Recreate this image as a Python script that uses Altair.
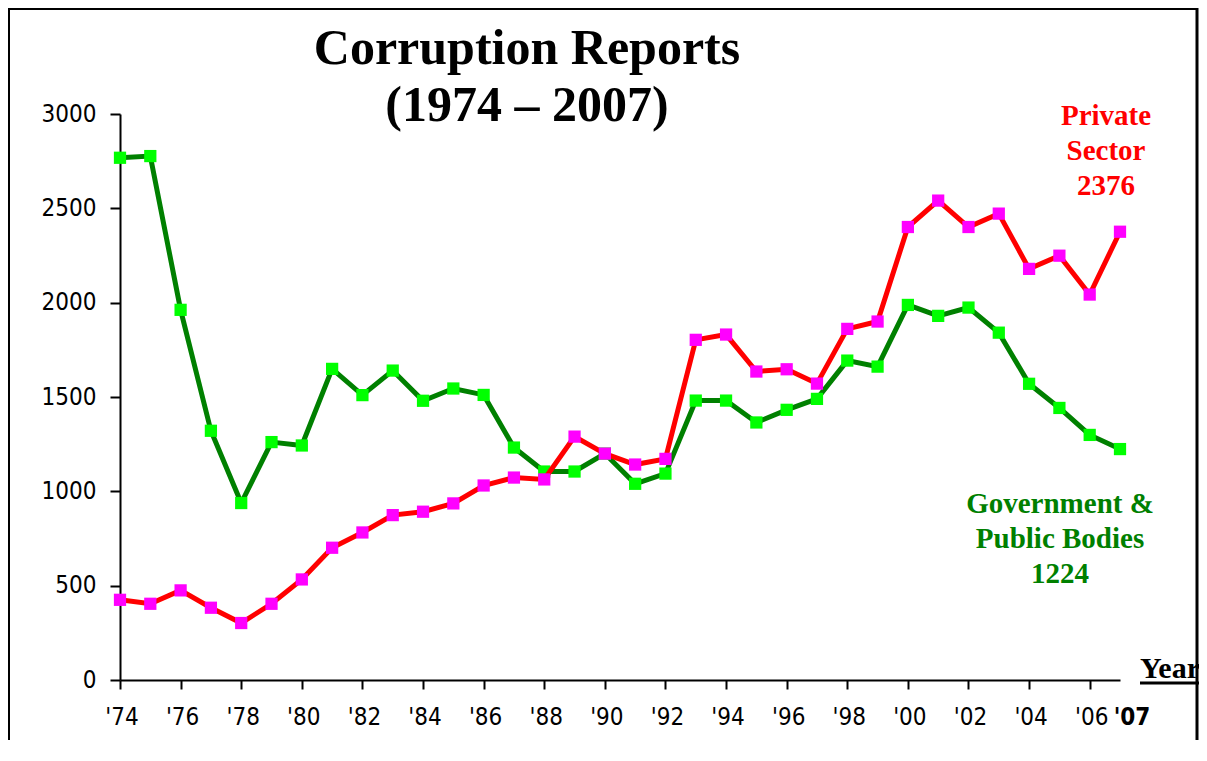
import altair as alt
import pandas as pd

years = list(range(1974, 2008))
government = [2768, 2777, 1962, 1321, 938, 1261, 1243, 1649, 1510, 1640, 1480,
              1545, 1511, 1232, 1105, 1105, 1200, 1040, 1094, 1481, 1481, 1365,
              1432, 1490, 1693, 1661, 1988, 1930, 1974, 1841, 1570, 1442, 1299, 1224]
private = [425, 404, 475, 383, 302, 404, 533, 701, 782, 874, 892,
           936, 1031, 1073, 1063, 1290, 1200, 1142, 1172, 1803, 1831, 1635,
           1647, 1571, 1861, 1900, 2401, 2541, 2401, 2472, 2179, 2249, 2043, 2376]
label_years = list(range(1974, 2007, 2))
tick_labels = ["'74", "'76", "'78", "'80", "'82", "'84", "'86", "'88", "'90",
               "'92", "'94", "'96", "'98", "'00", "'02", "'04", "'06"]
last_label = "'07"
y_ticks = [0, 500, 1000, 1500, 2000, 2500, 3000]

gov_df = pd.DataFrame({"year": years, "value": government})
priv_df = pd.DataFrame({"year": years, "value": private})
lab_df = pd.DataFrame({"year": label_years, "label": tick_labels})
last_df = pd.DataFrame({"year": [2007], "label": [last_label]})

NARROW = "Liberation Sans Narrow, Arial Narrow, DejaVu Sans Condensed, sans-serif"
SERIF = "Liberation Serif, Times New Roman, serif"

xscale = alt.Scale(domain=[1974, 2007], nice=False, zero=False)
yscale = alt.Scale(domain=[0, 3000], nice=False)

x_axis = alt.Axis(values=years, labels=False, title=None, grid=False,
                  tickSize=9, tickWidth=2, tickColor="black",
                  domainWidth=2, domainColor="black")
y_axis = alt.Axis(values=y_ticks, format="d", title=None, grid=False,
                  tickSize=10, tickWidth=2, tickColor="black",
                  domainWidth=2, domainColor="black",
                  labelFont=NARROW, labelFontSize=24, labelColor="black",
                  labelPadding=14)

X = alt.X("year:Q", scale=xscale, axis=x_axis)
Y = alt.Y("value:Q", scale=yscale, axis=y_axis)

gov_line = alt.Chart(gov_df).mark_line(color="#008000", strokeWidth=5).encode(x=X, y=Y)
gov_pts = alt.Chart(gov_df).mark_point(shape="square", filled=True, color="#00FF00",
                                       size=150, opacity=1).encode(x="year:Q", y="value:Q")
priv_line = alt.Chart(priv_df).mark_line(color="#FF0000", strokeWidth=5).encode(x="year:Q", y="value:Q")
priv_pts = alt.Chart(priv_df).mark_point(shape="square", filled=True, color="#FF00FF",
                                         size=150, opacity=1).encode(x="year:Q", y="value:Q")

xlabels = alt.Chart(lab_df).mark_text(font=NARROW, fontSize=24, color="black",
                                      baseline="alphabetic", align="center", dx=2).encode(
    x="year:Q", y=alt.value(611), text="label:N")
xlast = alt.Chart(last_df).mark_text(font=NARROW, fontSize=24, fontWeight="bold", color="black",
                                     baseline="alphabetic", align="center", dx=12).encode(
    x="year:Q", y=alt.value(611), text="label:N")

one = pd.DataFrame({"a": [0]})

title = alt.Chart(one).mark_text(text=["Corruption Reports", "(1974 \u2013 2007)"],
                                 font=SERIF, fontSize=50, fontWeight="bold", color="black",
                                 align="center", baseline="alphabetic", lineHeight=57).encode(
    x=alt.value(407), y=alt.value(-50))

priv_note = alt.Chart(one).mark_text(text=["Private", "Sector", "2376"],
                                     font=SERIF, fontSize=29, fontWeight="bold", color="#FF0000",
                                     align="center", baseline="alphabetic", lineHeight=35).encode(
    x=alt.value(986), y=alt.value(11))
gov_note = alt.Chart(one).mark_text(text=["Government &", "Public Bodies", "1224"],
                                    font=SERIF, fontSize=29, fontWeight="bold", color="#008000",
                                    align="center", baseline="alphabetic", lineHeight=35).encode(
    x=alt.value(940), y=alt.value(399))

year_text = alt.Chart(one).mark_text(text="Year", font=SERIF, fontSize=30, fontWeight="bold",
                                     color="black", align="left", baseline="alphabetic").encode(
    x=alt.value(1020), y=alt.value(564))
year_rule = alt.Chart(one).mark_rule(color="black", strokeWidth=3).encode(
    x=alt.value(1020), x2=alt.value(1090), y=alt.value(569))

frame_left = alt.Chart(one).mark_rule(color="black", strokeWidth=2).encode(
    x=alt.value(-111), y=alt.value(-106), y2=alt.value(700))
frame_right = alt.Chart(one).mark_rule(color="black", strokeWidth=3).encode(
    x=alt.value(1077), y=alt.value(-106), y2=alt.value(700))
frame_top = alt.Chart(one).mark_rule(color="black", strokeWidth=2).encode(
    x=alt.value(-112), x2=alt.value(1078), y=alt.value(-105))

chart = alt.layer(
    gov_line, gov_pts, priv_line, priv_pts, xlabels, xlast,
    title, priv_note, gov_note, year_text, year_rule,
    frame_left, frame_right, frame_top
).properties(
    width=1000, height=566,
    autosize=alt.AutoSizeParams(type="none"),
    padding={"left": 112, "top": 106, "right": 79, "bottom": 60},
    background="white",
).configure_view(stroke=None)

chart.save("out.html", embed_options={"renderer": "svg", "actions": False})
